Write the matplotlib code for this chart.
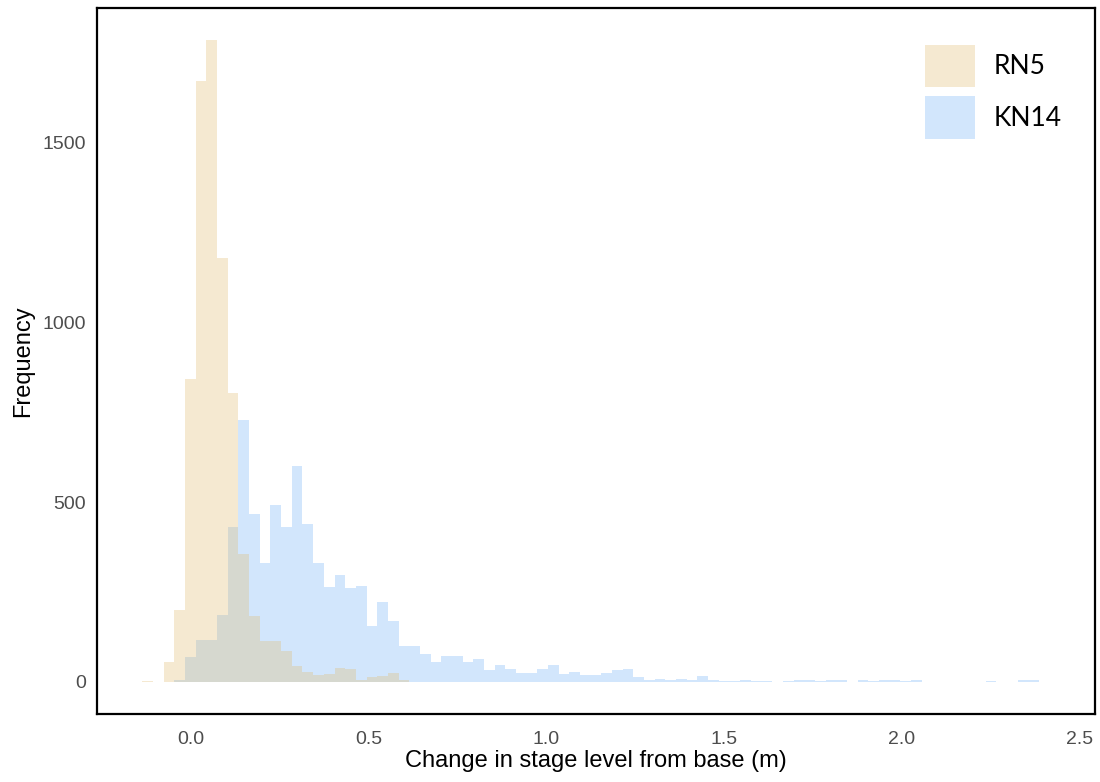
import numpy as np
import matplotlib
matplotlib.use("Agg")
import matplotlib.pyplot as plt
from matplotlib.patches import Patch

# histogram bins: width 0.03 m, first bin centred at -0.12 m
bin_width = 0.03
first_center = -0.12

# counts per bin (RN5 drawn on top of KN14)
rn5_counts = [3, 0, 55, 200, 841, 1670, 1785, 1178, 804, 356, 183, 114, 114, 85,
              44, 27, 19, 23, 38, 35, 4, 13, 17, 25, 6] + [0] * 60
kn14_counts = [0, 0, 0, 6, 68, 117, 117, 187, 431, 729, 468, 330, 492, 431,
               600, 439, 332, 265, 296, 262, 267, 156, 221, 168, 101, 101, 78, 56,
               71, 73, 56, 65, 33, 46, 35, 26, 24, 37, 48, 22, 28, 20, 20, 24,
               32, 36, 14, 6, 8, 6, 9, 6, 17, 6, 3, 3, 6, 3, 3, 1, 3, 6, 5, 3,
               6, 6, 1, 6, 2, 6, 4, 2, 6, 1, 1, 1, 1, 1, 1, 3, 1, 1, 6, 6, 1]

series_names = ["RN5", "KN14"]
series_colors = {"RN5": "#E1B969", "KN14": "#6CAFF8"}
x_ticks = [0.0, 0.5, 1.0, 1.5, 2.0, 2.5]
y_ticks = [0, 500, 1000, 1500]

n_bins = len(kn14_counts)
edges = first_center - bin_width / 2 + bin_width * np.arange(n_bins + 1)

fig = plt.figure(figsize=(11, 7.82), dpi=100)
ax = fig.add_axes([0.0882, 0.087, 0.9073, 0.9028])

ax.stairs(kn14_counts, edges, fill=True, color=series_colors["KN14"], alpha=0.3, linewidth=0)
ax.stairs(rn5_counts, edges, fill=True, color=series_colors["RN5"], alpha=0.3, linewidth=0)

xr = edges[-1] - edges[0]
ax.set_xlim(edges[0] - 0.05 * xr, edges[-1] + 0.05 * xr)
ymax = max(max(rn5_counts), max(kn14_counts))
ax.set_ylim(-0.05 * ymax, 1.05 * ymax)

ax.set_xticks(x_ticks)
ax.set_xticklabels([f"{v:.1f}" for v in x_ticks])
ax.set_yticks(y_ticks)
ax.tick_params(length=0, labelsize=14, labelcolor="#4D4D4D")
ax.tick_params(axis="x", pad=12)
ax.tick_params(axis="y", pad=8)
for lab in ax.get_xticklabels() + ax.get_yticklabels():
    lab.set_family("Liberation Sans")

for sp in ax.spines.values():
    sp.set_linewidth(1.6)
    sp.set_color("black")

ax.set_xlabel("Change in stage level from base (m)", family="Liberation Sans",
              fontsize=17, labelpad=2)
ax.set_ylabel("Frequency", family="Liberation Sans", fontsize=17, labelpad=6)

handles = [Patch(facecolor=series_colors[n], alpha=0.3, linewidth=0) for n in series_names]
ax.legend(handles, series_names, loc="upper left", bbox_to_anchor=(0.8297, 0.948),
          frameon=False, prop={"family": "Lato", "size": 19}, handlelength=1.9,
          handleheight=2.1, handletextpad=0.68, labelspacing=0.34, borderpad=0,
          borderaxespad=0)

fig.savefig("out.png", dpi=100)
